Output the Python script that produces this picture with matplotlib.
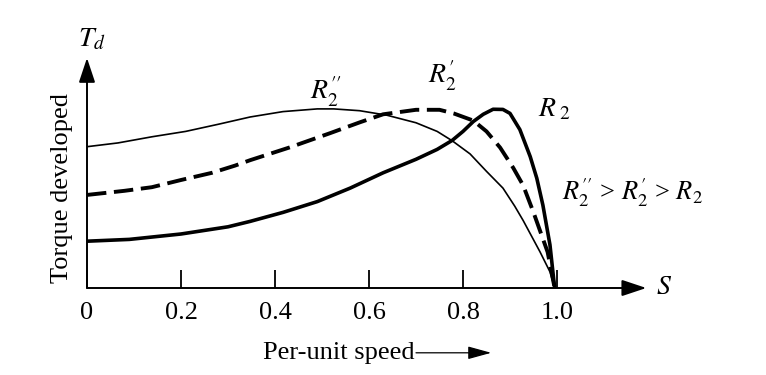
import matplotlib
matplotlib.use("Agg")
import matplotlib.pyplot as plt
from matplotlib.patches import ArrowStyle

plt.rcParams['font.family'] = 'serif'
plt.rcParams['font.serif'] = ['Liberation Serif', 'DejaVu Serif']
plt.rcParams['mathtext.fontset'] = 'stix'
plt.rcParams['lines.scale_dashes'] = False

# per-unit speed and torque (peak ~ 1.0)
speed_r2pp = [0.0, 0.066, 0.138, 0.21, 0.28, 0.347, 0.417, 0.49, 0.525, 0.58, 0.638,
              0.70, 0.745, 0.777, 0.815, 0.85, 0.885, 0.91, 0.928, 0.964, 0.985, 0.995]
torque_r2pp = [0.785, 0.806, 0.84, 0.87, 0.91, 0.95, 0.98, 0.995, 0.995, 0.985, 0.96,
               0.918, 0.87, 0.818, 0.745, 0.648, 0.555, 0.455, 0.375, 0.20, 0.09, 0.0]

speed_r2p = [0.0, 0.08, 0.138, 0.20, 0.266, 0.315, 0.347, 0.43, 0.517, 0.58, 0.63,
             0.70, 0.75, 0.78, 0.822, 0.85, 0.879, 0.907, 0.928, 0.95, 0.98, 0.995]
torque_r2p = [0.517, 0.54, 0.56, 0.60, 0.64, 0.68, 0.71, 0.78, 0.86, 0.92, 0.965,
              0.99, 0.99, 0.97, 0.93, 0.87, 0.78, 0.667, 0.57, 0.42, 0.20, 0.0]

speed_r2 = [0.0, 0.09, 0.2, 0.3, 0.347, 0.417, 0.49, 0.56, 0.63, 0.70, 0.745, 0.777,
            0.80, 0.822, 0.843, 0.864, 0.885, 0.90, 0.921, 0.943, 0.957, 0.97, 0.985, 0.995]
torque_r2 = [0.26, 0.27, 0.30, 0.34, 0.37, 0.42, 0.48, 0.555, 0.64, 0.715, 0.77, 0.82,
             0.87, 0.925, 0.965, 0.993, 0.992, 0.97, 0.88, 0.73, 0.61, 0.46, 0.24, 0.0]

tick_pos = [0, 0.2, 0.4, 0.6, 0.8, 1.0]
tick_labels = ['0', '0.2', '0.4', '0.6', '0.8', '1.0']

fig = plt.figure(figsize=(7.66, 3.75), dpi=100)
ax = fig.add_axes([87 / 766, 87 / 375, 1.2 * 470 / 766, 1.3 * 180 / 375])
ax.set_xlim(0, 1.2)
ax.set_ylim(0, 1.3)

# curves
ax.plot(speed_r2pp, torque_r2pp, color='black', lw=1.2, solid_joinstyle='round')
ax.plot(speed_r2p, torque_r2p, color='black', lw=2.8, linestyle=(0, (14, 5.5)))
ax.plot(speed_r2, torque_r2, color='black', lw=2.6, solid_joinstyle='round')

# axes drawn as arrows
for s in ax.spines.values():
    s.set_visible(False)
head = ArrowStyle('-|>', head_length=0.75, head_width=0.25)
ax.annotate('', xy=(1.19, 0), xytext=(0, 0), annotation_clip=False,
            arrowprops=dict(arrowstyle=head, lw=1.4, color='black',
                            mutation_scale=20, shrinkA=0, shrinkB=0))
ax.annotate('', xy=(0, 1.278), xytext=(0, 0), annotation_clip=False,
            arrowprops=dict(arrowstyle=head, lw=1.4, color='black',
                            mutation_scale=20, shrinkA=0, shrinkB=0))

ax.set_xticks(tick_pos)
ax.set_xticklabels(tick_labels, fontsize=19)
ax.tick_params(axis='x', direction='in', length=13, width=1.3, pad=10)
ax.set_yticks([])

# labels
ax.text(-0.02, 1.38, r'$T_d$', fontsize=20, ha='left', va='center')
ax.text(1.21, 0.0, r'$S$', fontsize=20, ha='left', va='center')
ax.text(-0.053, 0.555, 'Torque developed', fontsize=19, rotation=90,
        ha='center', va='center')
ax.text(0.374, -0.36, 'Per-unit speed', fontsize=19, ha='left', va='center')
ax.annotate('', xy=(0.86, -0.36), xytext=(0.70, -0.36), annotation_clip=False,
            arrowprops=dict(arrowstyle=ArrowStyle('-|>', head_length=0.8, head_width=0.22),
                            lw=0.9, color='black', mutation_scale=18,
                            shrinkA=0, shrinkB=0))

ax.text(0.474, 1.09, r'$R_2^{\prime\prime}$', fontsize=20, ha='left', va='center')
ax.text(0.726, 1.18, r'$R_2^{\prime}$', fontsize=20, ha='left', va='center')
ax.text(0.96, 0.99, r'$R_{\ 2}$', fontsize=20, ha='left', va='center')
ax.text(1.01, 0.53, r'$R_2^{\prime\prime}$ > $R_2^{\prime}$ > $R_2$', fontsize=19,
        ha='left', va='center')

fig.savefig('out.png', dpi=100)
